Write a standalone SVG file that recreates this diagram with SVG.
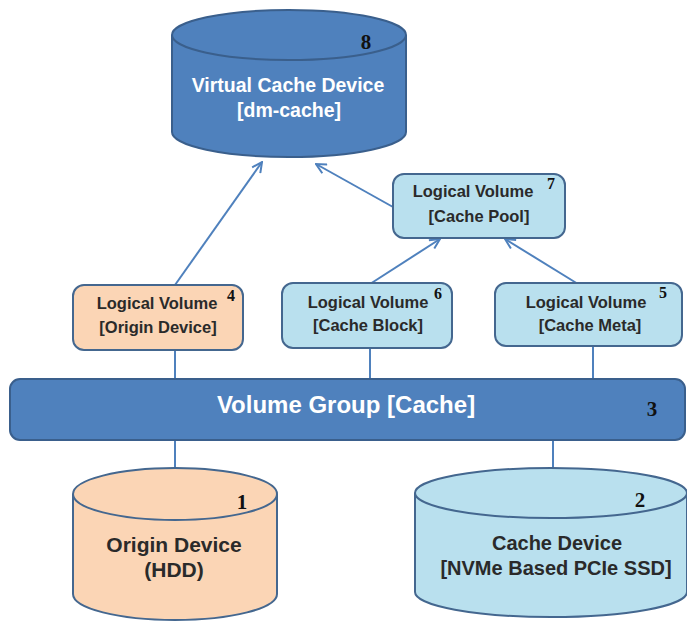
<svg xmlns="http://www.w3.org/2000/svg" width="687" height="623" viewBox="0 0 687 623">
  <defs>
    <marker id="arrow" viewBox="0 0 12 12" refX="11" refY="6" markerWidth="12" markerHeight="12" markerUnits="userSpaceOnUse" orient="auto">
      <path d="M1,1 L11,6 L1,11" fill="none" stroke="#4F81BD" stroke-width="2"/>
    </marker>
    <style>
      .dark { fill: #4F81BD; stroke: #3A5F8C; stroke-width: 2; }
      .light { fill: #B9E0EE; stroke: #44678F; stroke-width: 2; }
      .peach { fill: #FBD5B5; stroke: #44678F; stroke-width: 2; }
      .lbl { font-family: "Liberation Sans", Arial, sans-serif; font-weight: bold; text-anchor: middle; }
      .white { fill: #FFFFFF; font-size: 19.5px; }
      .box { fill: #2A2A2A; font-size: 16.5px; }
      .disk { fill: #2A2A2A; font-size: 20px; }
      .num { font-family: "Liberation Serif", "Times New Roman", serif; font-weight: bold; fill: #111; font-size: 21px; text-anchor: middle; }
      .sup { font-family: "Liberation Serif", "Times New Roman", serif; font-weight: bold; fill: #111; font-size: 16px; text-anchor: middle; }
      .wire { stroke: #4F81BD; stroke-width: 2; fill: none; }
    </style>
  </defs>

  <rect width="687" height="623" fill="#FFFFFF"/>

  <!-- connectors -->
  <g id="connectors">
    <line class="wire" x1="175" y1="285" x2="262" y2="162" marker-end="url(#arrow)"/>
    <line class="wire" x1="393" y1="207" x2="316" y2="164" marker-end="url(#arrow)"/>
    <line class="wire" x1="370" y1="284" x2="440" y2="239" marker-end="url(#arrow)"/>
    <line class="wire" x1="578" y1="284" x2="505" y2="239" marker-end="url(#arrow)"/>
    <line class="wire" x1="175" y1="350" x2="175" y2="379"/>
    <line class="wire" x1="370" y1="348" x2="370" y2="379"/>
    <line class="wire" x1="593" y1="346" x2="593" y2="379"/>
    <line class="wire" x1="175" y1="440" x2="175" y2="468"/>
    <line class="wire" x1="553" y1="440" x2="553" y2="468"/>
  </g>

  <!-- virtual cache device (dm-cache) -->
  <g id="node8">
    <path class="dark" d="M172,35 L172,132 A117,25 0 0 0 406,132 L406,35"/>
    <ellipse class="dark" cx="289" cy="35" rx="117" ry="25"/>
    <text class="num" x="366" y="49">8</text>
    <text class="lbl white" x="288" y="92">Virtual Cache Device</text>
    <text class="lbl white" x="289" y="117">[dm-cache]</text>
  </g>

  <!-- cache pool LV -->
  <g id="node7">
    <rect class="light" x="393" y="174" width="172" height="64" rx="11"/>
    <text class="lbl box" x="473" y="197">Logical Volume</text>
    <text class="lbl box" x="479" y="222">[Cache Pool]</text>
    <text class="sup" x="551" y="189">7</text>
  </g>

  <!-- origin LV -->
  <g id="node4">
    <rect class="peach" x="73" y="285" width="170" height="65" rx="11"/>
    <text class="lbl box" x="157" y="309">Logical Volume</text>
    <text class="lbl box" x="158" y="333">[Origin Device]</text>
    <text class="sup" x="231" y="301">4</text>
  </g>

  <!-- cache block LV -->
  <g id="node6">
    <rect class="light" x="282" y="283" width="170" height="65" rx="11"/>
    <text class="lbl box" x="368" y="308">Logical Volume</text>
    <text class="lbl box" x="368" y="331">[Cache Block]</text>
    <text class="sup" x="438" y="299">6</text>
  </g>

  <!-- cache meta LV -->
  <g id="node5">
    <rect class="light" x="495" y="283" width="187" height="63" rx="11"/>
    <text class="lbl box" x="586" y="308">Logical Volume</text>
    <text class="lbl box" x="590" y="331">[Cache Meta]</text>
    <text class="sup" x="663" y="298">5</text>
  </g>

  <!-- volume group -->
  <g id="node3">
    <rect class="dark" x="10" y="379" width="675" height="61" rx="10"/>
    <text class="lbl white" x="346" y="413" style="font-size:24px">Volume Group [Cache]</text>
    <text class="num" x="652" y="416">3</text>
  </g>

  <!-- origin device (HDD) -->
  <g id="node1">
    <path class="peach" d="M73,494 L73,594 A102,26 0 0 0 277,594 L277,494"/>
    <ellipse class="peach" cx="175" cy="494" rx="102" ry="26"/>
    <text class="num" x="242" y="509">1</text>
    <text class="lbl disk" x="174" y="552" style="font-size:21px">Origin Device</text>
    <text class="lbl disk" x="174" y="577" style="font-size:21px">(HDD)</text>
  </g>

  <!-- cache device (SSD) -->
  <g id="node2">
    <path class="light" d="M415,493 L415,592 A136,25 0 0 0 687,592 L687,493"/>
    <ellipse class="light" cx="551" cy="493" rx="136" ry="25"/>
    <text class="num" x="640" y="507">2</text>
    <text class="lbl disk" x="557" y="550">Cache Device</text>
    <text class="lbl disk" x="556" y="575">[NVMe Based PCIe SSD]</text>
  </g>
</svg>
